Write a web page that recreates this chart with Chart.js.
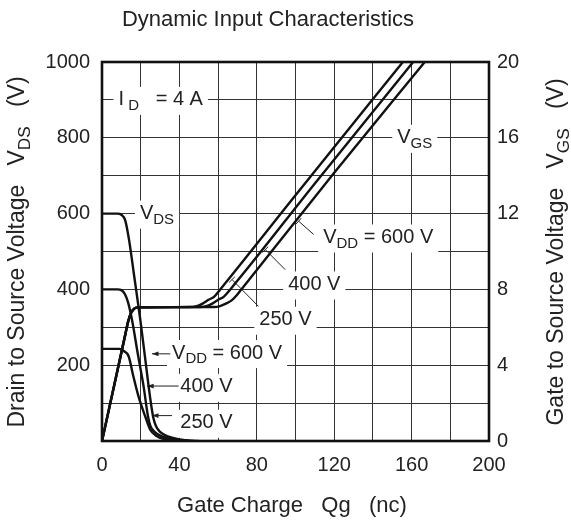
<!DOCTYPE html>
<html>
<head>
<meta charset="utf-8">
<script src="https://cdn.jsdelivr.net/npm/chart.js@4.4.1/dist/chart.umd.min.js"></script>
<style>html,body{margin:0;background:#fff}</style>
</head>
<body>
<canvas id="gateCharge" width="571" height="527"></canvas>
<script>
// gate charge values (nC) and voltages
const qgVds600 = [0, 8, 10, 12, 14, 16.5, 19.8, 22.5, 25, 26.5, 28, 30, 34, 40, 50];
const vds600 = [600, 600, 597, 582, 530, 440, 320, 210, 110, 62, 38, 24, 12, 4, 0];

const qgVds400 = [0, 8, 10, 12, 13.5, 15.5, 18.5, 21.5, 23.8, 25, 27, 31, 36, 45];
const vds400 = [400, 400, 398, 386, 365, 320, 230, 144, 64, 40, 25, 12, 5, 0];

const qgVds250 = [0, 9, 11, 13.8, 16, 18.9, 22.4, 25, 28, 32, 38, 45];
const vds250 = [243, 243, 238, 223, 175, 117, 64, 29, 14, 5, 1, 0];

const qgVgs250 = [0, 12, 13.5, 15, 16.5, 18.5, 45, 49, 52, 55, 58, 61.1, 100, 155.5];
const vgs250 = [0, 5.6, 6.3, 6.75, 6.97, 7.05, 7.07, 7.12, 7.25, 7.45, 7.62, 8.0, 12.97, 20];

const qgVgs400 = [0, 12, 13.5, 15, 16.5, 18.5, 50.5, 54, 57, 60, 63, 66.3, 110, 160.8];
const vgs400 = [0, 5.6, 6.3, 6.75, 6.97, 7.05, 7.07, 7.12, 7.25, 7.45, 7.62, 8.0, 13.59, 20];

const qgVgs600 = [0, 12, 13.5, 15, 16.5, 18.5, 58, 61, 64, 67, 69.5, 72, 120, 166.8];
const vgs600 = [0, 5.6, 6.3, 6.75, 6.97, 7.05, 7.07, 7.12, 7.25, 7.42, 7.68, 8.0, 14.15, 20];

const FONT = '"Liberation Sans", Arial, sans-serif';

function toPoints(xs, ys) {
  return xs.map((x, i) => ({ x: x, y: ys[i] }));
}

function curve(xs, ys, axis) {
  return {
    data: toPoints(xs, ys),
    yAxisID: axis,
    borderColor: "#111",
    borderWidth: 2.4,
    pointRadius: 0,
    fill: false,
    cubicInterpolationMode: "monotone",
  };
}

// labels on the plot, placed in data units (x = nC, y = left axis volts)
// parts: [text, isSubscript]; tip: "arrow" or "bar" at the end of the leader
const notes = [
  { x: 8.5, y: 900, parts: [["I", 0], [" D", 1], ["   = 4 A", 0]] },
  { x: 19.6, y: 600, parts: [["V", 0], ["DS", 1]] },
  { x: 152.6, y: 800, parts: [["V", 0], ["GS", 1]] },
  { x: 114.3, y: 537, parts: [["V", 0], ["DD", 1], [" = 600 V", 0]], lead: [109.4, 545, 101.6, 580], tip: "bar" },
  { x: 96.2, y: 413, parts: [["400 V", 0]], lead: [94.7, 452, 84.4, 505], tip: "bar" },
  { x: 81.3, y: 320, parts: [["250 V", 0]], lead: [80.9, 355, 67.2, 426], tip: "bar" },
  { x: 36.2, y: 232, parts: [["V", 0], ["DD", 1], [" = 600 V", 0]], lead: [35.3, 230, 25.8, 230], tip: "arrow" },
  { x: 40.5, y: 143, parts: [["400 V", 0]], lead: [39.6, 145, 23.3, 145], tip: "arrow" },
  { x: 40.5, y: 48, parts: [["250 V", 0]], lead: [36.2, 67, 25.8, 67], tip: "arrow" },
];

function partsWidth(ctx, parts, size) {
  let w = 0;
  parts.forEach((p) => {
    ctx.font = (p[1] ? size * 0.75 : size) + "px " + FONT;
    w += ctx.measureText(p[0]).width;
  });
  return w;
}

function drawParts(ctx, parts, x, y, size) {
  let cx = x;
  ctx.textBaseline = "middle";
  ctx.textAlign = "left";
  parts.forEach((p) => {
    ctx.font = (p[1] ? size * 0.75 : size) + "px " + FONT;
    ctx.fillText(p[0], cx, p[1] ? y + size * 0.3 : y);
    cx += ctx.measureText(p[0]).width;
  });
}

function drawLeader(ctx, x1, y1, x2, y2, tip) {
  ctx.beginPath();
  ctx.moveTo(x1, y1);
  ctx.lineTo(x2, y2);
  ctx.stroke();
  const ang = Math.atan2(y2 - y1, x2 - x1);
  if (tip === "arrow") {
    ctx.beginPath();
    ctx.moveTo(x2, y2);
    ctx.lineTo(x2 - 7 * Math.cos(ang - 0.35), y2 - 7 * Math.sin(ang - 0.35));
    ctx.lineTo(x2 - 7 * Math.cos(ang + 0.35), y2 - 7 * Math.sin(ang + 0.35));
    ctx.closePath();
    ctx.fill();
  } else if (tip === "bar") {
    const nx = -Math.sin(ang) * 4;
    const ny = Math.cos(ang) * 4;
    ctx.beginPath();
    ctx.moveTo(x2 - nx, y2 - ny);
    ctx.lineTo(x2 + nx, y2 + ny);
    ctx.stroke();
  }
}

const notesPlugin = {
  id: "notes",
  beforeDatasetsDraw(chart) {
    const ctx = chart.ctx;
    const sx = chart.scales.x;
    const sy = chart.scales.y;
    ctx.save();
    notes.forEach((n) => {
      const px = sx.getPixelForValue(n.x);
      const py = sy.getPixelForValue(n.y);
      const w = partsWidth(ctx, n.parts, 20);
      ctx.fillStyle = "#fff";
      ctx.fillRect(px - 5, py - 13, w + 10, 28);
      ctx.fillStyle = "#222";
      if (n.lead) {
        ctx.strokeStyle = "#222";
        ctx.lineWidth = 1;
        drawLeader(ctx,
          sx.getPixelForValue(n.lead[0]), sy.getPixelForValue(n.lead[1]),
          sx.getPixelForValue(n.lead[2]), sy.getPixelForValue(n.lead[3]), n.tip);
      }
      drawParts(ctx, n.parts, px, py, 20);
    });
    ctx.restore();
  },
  afterDatasetsDraw(chart) {
    const ctx = chart.ctx;
    const a = chart.chartArea;
    ctx.save();
    ctx.strokeStyle = "#111";
    ctx.lineWidth = 2.6;
    ctx.strokeRect(a.left, a.top, a.right - a.left, a.bottom - a.top);

    ctx.fillStyle = "#222";
    ctx.textAlign = "center";
    ctx.textBaseline = "middle";
    ctx.font = "22px " + FONT;
    ctx.fillText("Dynamic Input Characteristics", 268, 20);
    ctx.fillText("Gate Charge   Qg   (nc)", 292, 506);

    const left = [["Drain to Source Voltage   V", 0], ["DS", 1], ["   (V)", 0]];
    const right = [["Gate to Source Voltage   V", 0], ["GS", 1], ["   (V)", 0]];
    [[left, 18], [right, 557]].forEach(([parts, x]) => {
      ctx.save();
      ctx.translate(x, 252);
      ctx.rotate(-Math.PI / 2);
      const w = partsWidth(ctx, parts, 23);
      drawParts(ctx, parts, -w / 2, 0, 23);
      ctx.restore();
    });
    ctx.restore();
  },
};

const tickFont = { family: FONT, size: 20 };
const gridStyle = { color: "#333", lineWidth: 1, drawTicks: false };

new Chart(document.getElementById("gateCharge"), {
  type: "line",
  data: {
    datasets: [
      curve(qgVds600, vds600, "y"),
      curve(qgVds400, vds400, "y"),
      curve(qgVds250, vds250, "y"),
      curve(qgVgs250, vgs250, "y2"),
      curve(qgVgs400, vgs400, "y2"),
      curve(qgVgs600, vgs600, "y2"),
    ],
  },
  options: {
    responsive: false,
    animation: false,
    layout: { padding: { top: 62, left: 0, right: 0, bottom: 0 } },
    plugins: { legend: { display: false }, tooltip: { enabled: false } },
    scales: {
      x: {
        type: "linear",
        min: 0,
        max: 200,
        border: { display: false },
        grid: gridStyle,
        ticks: {
          stepSize: 20,
          autoSkip: false,
          maxRotation: 0,
          padding: 12,
          color: "#222",
          font: tickFont,
          callback: (v) => (v % 40 === 0 ? v : ""),
        },
        afterFit: (s) => { s.height = 86; },
      },
      y: {
        position: "left",
        min: 0,
        max: 1000,
        border: { display: false },
        grid: gridStyle,
        ticks: {
          stepSize: 100,
          autoSkip: false,
          padding: 12,
          color: "#222",
          font: tickFont,
          callback: (v) => (v % 200 === 0 && v > 0 ? v : ""),
        },
        afterFit: (s) => { s.width = 102; },
      },
      y2: {
        position: "right",
        min: 0,
        max: 20,
        border: { display: false },
        grid: { display: false, drawTicks: false },
        ticks: {
          stepSize: 2,
          autoSkip: false,
          padding: 8,
          color: "#222",
          font: tickFont,
          callback: (v) => (v % 4 === 0 ? v : ""),
        },
        afterFit: (s) => { s.width = 82; },
      },
    },
  },
  plugins: [notesPlugin],
});
</script>
</body>
</html>
